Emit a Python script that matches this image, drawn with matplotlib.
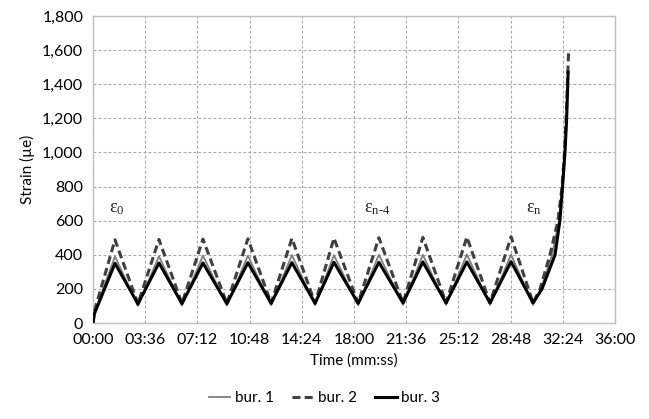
import matplotlib
matplotlib.use("Agg")
import matplotlib.pyplot as plt
from matplotlib.ticker import FuncFormatter, MultipleLocator

plt.rcParams['mathtext.fontset'] = 'custom'
plt.rcParams['mathtext.rm'] = 'Liberation Serif'
plt.rcParams['mathtext.it'] = 'Liberation Serif'

# time (s) of vertices
peak_t = [91, 273, 455, 641, 823, 997, 1183, 1365, 1547, 1730]
trough_t = [186, 368, 554, 737, 919, 1097, 1283, 1461, 1643, 1821]

bur1_peaks = [390, 392, 395, 395, 398, 398, 400, 400, 402, 402]
bur1_troughs = [100, 102, 102, 104, 104, 104, 106, 106, 106, 106]
bur2_peaks = [488, 490, 492, 494, 496, 498, 500, 502, 504, 506]
bur2_troughs = [112, 114, 114, 116, 116, 116, 118, 118, 118, 118]
bur3_peaks = [350, 352, 352, 354, 354, 356, 356, 358, 358, 360]
bur3_troughs = [112, 114, 114, 116, 116, 116, 118, 118, 118, 118]

start_t = [0, 6]
bur1_start = [0, 60]
bur2_start = [0, 70]
bur3_start = [0, 55]

bur1_end_t = [1854, 1900, 1928, 1942, 1953, 1960, 1966]
bur1_end = [200, 400, 600, 800, 1000, 1200, 1480]
bur2_end_t = [1850, 1891, 1924, 1941, 1951, 1958, 1963, 1968]
bur2_end = [200, 400, 600, 800, 1000, 1200, 1400, 1590]
bur3_end_t = [1858, 1912, 1932, 1943, 1953, 1960, 1966]
bur3_end = [200, 400, 600, 800, 1000, 1200, 1470]


def build(st, sv, peaks, troughs, et, ev):
    t = list(st)
    v = list(sv)
    for pt, pv, tt, tv in zip(peak_t, peaks, trough_t, troughs):
        t += [pt, tt]
        v += [pv, tv]
    t += et
    v += ev
    return t, v


fig = plt.figure(figsize=(6.49, 4.19), dpi=100)
ax = fig.add_axes([0.1433, 0.2291, 0.8043, 0.7327])

t1, v1 = build(start_t, bur1_start, bur1_peaks, bur1_troughs, bur1_end_t, bur1_end)
t2, v2 = build(start_t, bur2_start, bur2_peaks, bur2_troughs, bur2_end_t, bur2_end)
t3, v3 = build(start_t, bur3_start, bur3_peaks, bur3_troughs, bur3_end_t, bur3_end)

ax.plot(t1, v1, color='#7f7f7f', lw=1.3, label='bur. 1', zorder=3)
ax.plot(t2, v2, color='#404040', lw=2.2, dashes=(2.6, 1.4), label='bur. 2', zorder=3)
ax.plot(t3, v3, color='#000000', lw=2.2, label='bur. 3', zorder=4)

ax.set_xlim(0, 2160)
ax.set_ylim(0, 1800)
ax.xaxis.set_major_locator(MultipleLocator(216))
ax.yaxis.set_major_locator(MultipleLocator(200))
ax.xaxis.set_major_formatter(FuncFormatter(lambda x, p: f"{int(round(x))//60:02d}:{int(round(x))%60:02d}"))
ax.yaxis.set_major_formatter(FuncFormatter(lambda y, p: f"{int(y):,}"))

ax.grid(True, color='#a6a6a6', ls=(0, (2.5, 2)), lw=0.8)
ax.set_axisbelow(True)
for s in ax.spines.values():
    s.set_color('#bfbfbf')
    s.set_linewidth(1.0)
ax.tick_params(length=0, labelsize=11.5, colors='#000000', pad=7)
for lab in ax.get_xticklabels() + ax.get_yticklabels():
    lab.set_fontfamily('Lato')

ax.set_xlabel('Time (mm:ss)', fontsize=11, family='Lato', labelpad=5)
ax.set_ylabel('Strain (µe)', fontsize=11, family='Lato', labelpad=5)

ax.text(65, 650, r'$\mathrm{ε_{0}}$', fontsize=13, color='#222222')
ax.text(1120, 650, r'$\mathrm{ε_{n\text{-}4}}$', fontsize=13, color='#222222')
ax.text(1790, 650, r'$\mathrm{ε_{n}}$', fontsize=13, color='#222222')

leg = fig.legend(loc='lower center', bbox_to_anchor=(0.5, 0.0), ncol=3, frameon=False,
                 handlelength=1.4, handletextpad=0.3, columnspacing=1.2,
                 prop={'family': 'Lato', 'size': 11})

fig.savefig('out.png', dpi=100)
